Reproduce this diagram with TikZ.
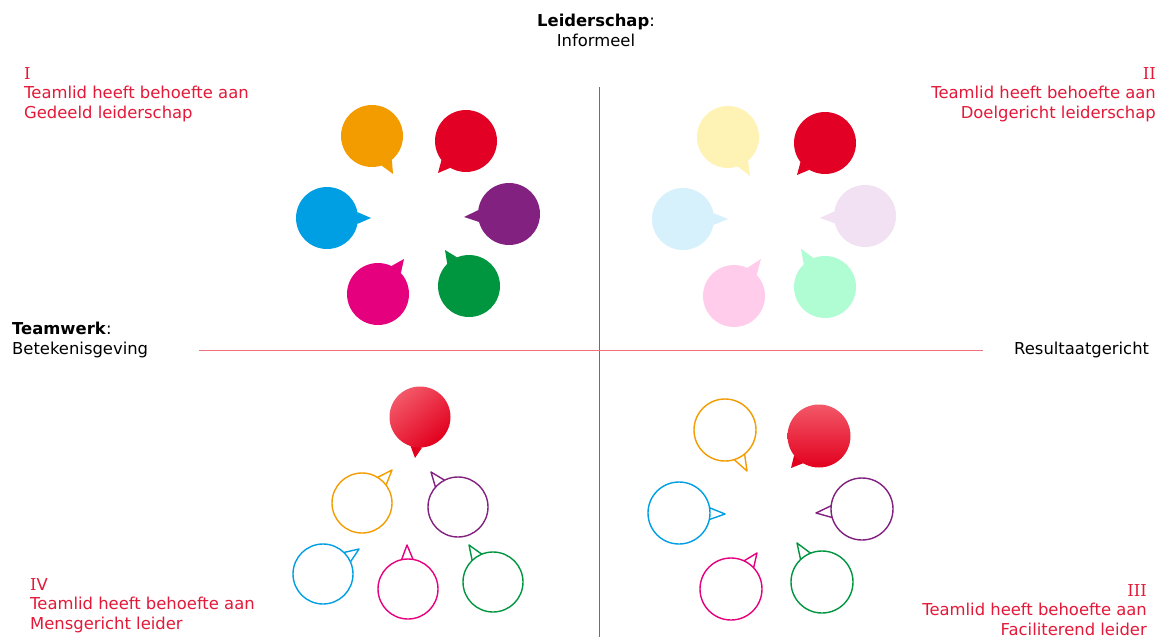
\documentclass[tikz,border=0pt]{standalone}
\usepackage{fontspec}
\setmainfont{DejaVu Sans}
\newfontfamily\romfont{DejaVu Serif}
\usetikzlibrary{calc}
\definecolor{cOr}{RGB}{243,156,0}
\definecolor{cRe}{RGB}{226,0,36}
\definecolor{cPu}{RGB}{130,33,128}
\definecolor{cBl}{RGB}{0,159,227}
\definecolor{cPi}{RGB}{229,0,125}
\definecolor{cGr}{RGB}{0,150,64}
\definecolor{lYe}{RGB}{255,242,181}
\definecolor{lPu}{RGB}{241,225,243}
\definecolor{lBl}{RGB}{214,241,252}
\definecolor{lPi}{RGB}{255,205,235}
\definecolor{lGr}{RGB}{176,252,211}
\definecolor{txtred}{RGB}{228,24,56}
\definecolor{axgray}{RGB}{110,110,110}
\definecolor{axred}{RGB}{240,112,124}
\definecolor{gradhi}{RGB}{243,88,104}
\definecolor{gradlo}{RGB}{226,0,30}
\tikzset{
  txt/.style={inner sep=0pt, font=\fontsize{16.4}{19.5}\selectfont},
  redtxt/.style={txt, text=txtred},
  bubcircle/.style={circle, inner sep=0pt, outer sep=0pt},
  outl/.style={line width=1.4pt, line join=round}
}
% filled bubble: name, center, radius, tip, colour
\newcommand\fillbubble[5]{%
  \node[bubcircle, minimum size=2*#3, fill=#5] (#1) at (#2) {};
  \coordinate (#1-tip) at (#4);
  \fill[#5] ($(#1.center)!#3pt!11:(#1-tip)$) -- (#1-tip) -- ($(#1.center)!#3pt!-11:(#1-tip)$) -- cycle;
}
% outlined bubble
\newcommand\linebubble[5]{%
  \node[bubcircle, minimum size=2*#3, draw=#5, outl] (#1) at (#2) {};
  \coordinate (#1-tip) at (#4);
  \draw[#5, outl] ($(#1.center)!#3pt!11:(#1-tip)$) -- (#1-tip) -- ($(#1.center)!#3pt!-11:(#1-tip)$);
}
% gradient bubble: name, center, radius, tip, shading angle
\newcommand\gradbubble[5]{%
  \coordinate (#1-tip) at (#4);
  \fill[gradlo] ($(#2)!#3pt!11:(#1-tip)$) -- (#1-tip) -- ($(#2)!#3pt!-11:(#1-tip)$) -- cycle;
  \node[bubcircle, minimum size=2*#3, top color=gradhi, bottom color=gradlo, shading angle=#5] (#1) at (#2) {};
}
\begin{document}
\begin{tikzpicture}[x=1pt, y=-1pt]
\useasboundingbox (0,0) rectangle (1162,637);
\fill[white] (0,0) rectangle (1162,637);

% axes
\coordinate (vtop) at (599,87);
\coordinate (vbot) at (599,637);
\coordinate (hl) at (199,350);
\coordinate (hr) at (983,350);
\draw[axgray, line width=0.8pt] (vtop) -- (vbot);
\draw[axred, line width=0.9pt] (hl) -- (hr);

% texts
\node[txt, align=center, anchor=north] (lead) at (596,14) {\textbf{Leiderschap}:\\Informeel};
\node[txt, align=left, anchor=north west] (team) at (12,322) {\textbf{Teamwerk}:\\Betekenisgeving};
\node[txt, anchor=base west] (res) at (1014,354) {Resultaatgericht};
\node[redtxt, align=left, anchor=north west] (q1) at (24,67) {{\romfont I}\\Teamlid heeft behoefte aan\\Gedeeld leiderschap};
\node[redtxt, align=right, anchor=north east] (q2) at (1156,67) {{\romfont II}\\Teamlid heeft behoefte aan\\Doelgericht leiderschap};
\node[redtxt, align=left, anchor=north west] (q4) at (30,578) {{\romfont I}V\\Teamlid heeft behoefte aan\\Mensgericht leider};
\node[redtxt, align=right, anchor=north east] (q3) at (1147,584) {{\romfont III}\\Teamlid heeft behoefte aan\\Faciliterend leider};

% quadrant I
\fillbubble{a1}{372,136}{31}{393,174}{cOr}
\fillbubble{a2}{466,141}{31}{438,173}{cRe}
\fillbubble{a3}{509,214}{31}{464,217}{cPu}
\fillbubble{a4}{327,218}{31}{371,218}{cBl}
\fillbubble{a5}{378,294}{31}{404,259}{cPi}
\fillbubble{a6}{469,286}{31}{445,250}{cGr}

% quadrant II
\fillbubble{b1}{728,137}{31}{750,176}{lYe}
\fillbubble{b2}{825,143}{31}{797,175}{cRe}
\fillbubble{b3}{865,216}{31}{820,218}{lPu}
\fillbubble{b4}{683,219}{31}{728,219}{lBl}
\fillbubble{b5}{734,296}{31}{761,259}{lPi}
\fillbubble{b6}{825,287}{31}{801,249}{lGr}

% quadrant IV
\gradbubble{d0}{420,417}{30.5}{415,458}{40}
\linebubble{d1}{362,503}{30}{392,470}{cOr}
\linebubble{d2}{458,507}{30}{431,472}{cPu}
\linebubble{d3}{323,574}{30}{359,549}{cBl}
\linebubble{d4}{408,589}{30}{407,545}{cPi}
\linebubble{d5}{493,582}{30}{469,545}{cGr}

% quadrant III
\gradbubble{e0}{819,436}{31.5}{791,468}{0}
\linebubble{e1}{725,430}{31}{747,471}{cOr}
\linebubble{e2}{862,509}{31}{816,513}{cPu}
\linebubble{e3}{679,513}{31}{725,514}{cBl}
\linebubble{e4}{731,589}{31}{757,553}{cPi}
\linebubble{e5}{822,582}{31}{797,543}{cGr}
\end{tikzpicture}
\end{document}
